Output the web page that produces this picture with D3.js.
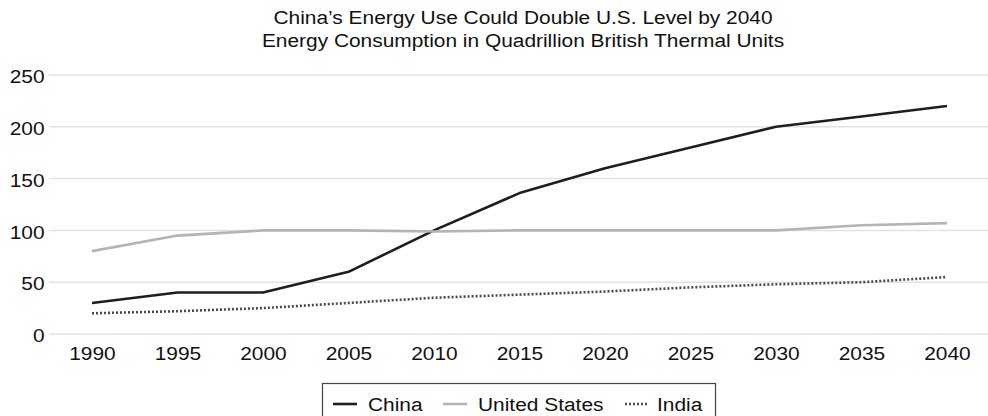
<!DOCTYPE html>
<html>
<head>
<meta charset="utf-8">
<script src="https://cdn.jsdelivr.net/npm/d3@7"></script>
<style>
  html, body { margin: 0; padding: 0; background: #fff; }
  svg { display: block; font-family: "Liberation Sans", Arial, Helvetica, sans-serif; }
</style>
</head>
<body>
<svg id="chart" width="988" height="416"></svg>
<script>
const titleLines = ["China\u2019s Energy Use Could Double U.S. Level by 2040",
                    "Energy Consumption in Quadrillion British Thermal Units"];
const years = ["1990","1995","2000","2005","2010","2015","2020","2025","2030","2035","2040"];
const china = [30, 40, 40, 60, 100, 136, 160, 180, 200, 210, 220];
const unitedStates = [80, 95, 100, 100, 99, 100, 100, 100, 100, 105, 107];
const india = [20, 22, 25, 30, 35, 38, 41, 45, 48, 50, 55];
const yTicks = [0, 50, 100, 150, 200, 250];
const seriesNames = ["China", "United States", "India"];

const series = [
  { name: seriesNames[0], values: china, color: "#1e1e1e", dash: null },
  { name: seriesNames[1], values: unitedStates, color: "#b4b4b4", dash: null },
  { name: seriesNames[2], values: india, color: "#4a4a4a", dash: "2,2" }
];

const svg = d3.select("#chart");
const stretch = "scale(1.1,1)";
const fontSize = 19;

const x = d3.scalePoint().domain(years).range([92, 947]);
const y = d3.scaleLinear().domain([0, 250]).range([334, 75]);
const gridLeft = 49, gridRight = 988;

// title
titleLines.forEach((t, i) => {
  svg.append("text")
    .attr("transform", `translate(523,${24 + i * 23}) ${stretch}`)
    .attr("text-anchor", "middle")
    .attr("font-size", fontSize)
    .attr("fill", "#111")
    .text(t);
});

// horizontal gridlines
svg.append("g")
  .selectAll("line")
  .data(yTicks)
  .join("line")
  .attr("x1", gridLeft).attr("x2", gridRight)
  .attr("y1", d => y(d)).attr("y2", d => y(d))
  .attr("stroke", "#e2e2e2")
  .attr("stroke-width", 1.5);

// y axis labels
const yAxis = svg.append("g")
  .attr("transform", `translate(${gridLeft},0)`)
  .call(d3.axisLeft(y).tickValues(yTicks).tickSize(0).tickPadding(4));
yAxis.select(".domain").remove();
yAxis.selectAll("text")
  .attr("font-size", fontSize)
  .attr("font-family", null)
  .attr("fill", "#111")
  .attr("dy", "0.4em")
  .attr("transform", stretch);

// x axis labels
const xAxis = svg.append("g")
  .attr("transform", `translate(0,${y(0)})`)
  .call(d3.axisBottom(x).tickSize(0).tickPadding(13));
xAxis.select(".domain").remove();
xAxis.selectAll("text")
  .attr("font-size", fontSize)
  .attr("font-family", null)
  .attr("fill", "#111")
  .attr("transform", stretch);

// series lines
const line = d3.line()
  .x((d, i) => x(years[i]))
  .y(d => y(d));

svg.append("g")
  .selectAll("path")
  .data(series)
  .join("path")
  .attr("d", d => line(d.values))
  .attr("fill", "none")
  .attr("stroke", d => d.color)
  .attr("stroke-width", 2.6)
  .attr("stroke-dasharray", d => d.dash)
  .attr("stroke-linejoin", "round");

// legend
const legend = svg.append("g");
legend.append("rect")
  .attr("x", 322.5).attr("y", 383.5)
  .attr("width", 393).attr("height", 40)
  .attr("fill", "#fff")
  .attr("stroke", "#444")
  .attr("stroke-width", 1.2);

const legendItems = [
  { s: series[0], x0: 333, tx: 368 },
  { s: series[1], x0: 443, tx: 478 },
  { s: series[2], x0: 625, tx: 657 }
];
legendItems.forEach(it => {
  legend.append("line")
    .attr("x1", it.x0).attr("x2", it.x0 + (it.s.dash ? 22 : 24))
    .attr("y1", 404).attr("y2", 404)
    .attr("stroke", it.s.color)
    .attr("stroke-width", 2.6)
    .attr("stroke-dasharray", it.s.dash);
  legend.append("text")
    .attr("transform", `translate(${it.tx},410.5) ${stretch}`)
    .attr("font-size", fontSize)
    .attr("fill", "#111")
    .text(it.s.name);
});
</script>
</body>
</html>
